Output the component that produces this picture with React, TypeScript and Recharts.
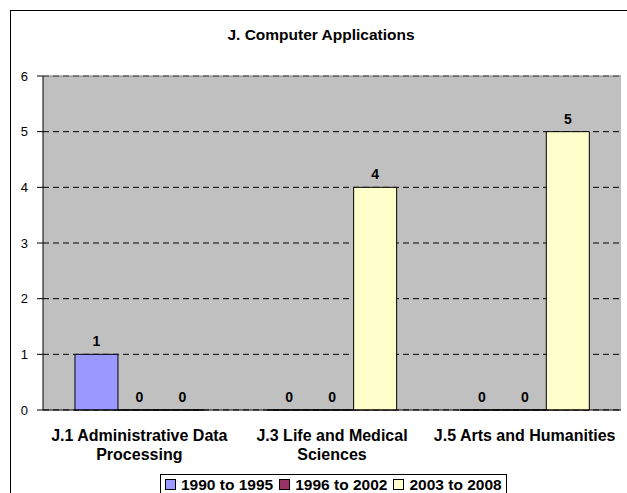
import React from 'react';
import {
  BarChart, Bar, XAxis, YAxis, CartesianGrid, Legend, LabelList, ReferenceLine,
} from 'recharts';

const CATEGORIES = [
  'J.1 Administrative Data|Processing',
  'J.3 Life and Medical|Sciences',
  'J.5 Arts and Humanities',
];
const P1990_1995 = [1, 0, 0];
const P1996_2002 = [0, 0, 0];
const P2003_2008 = [0, 4, 5];
const Y_TICKS = [0, 1, 2, 3, 4, 5, 6];
const EDGE_TICKS = [0, 1, 2, 3];

const SERIES = [
  { key: 'p1', name: '1990 to 1995', color: '#9999FF' },
  { key: 'p2', name: '1996 to 2002', color: '#993366' },
  { key: 'p3', name: '2003 to 2008', color: '#FFFFCC' },
];

const data = CATEGORIES.map((c, i) => ({
  cat: c,
  p1: P1990_1995[i],
  p2: P1996_2002[i],
  p3: P2003_2008[i],
}));

const FONT = 'Arial, "Liberation Sans", Helvetica, sans-serif';

const CategoryTick = ({ x, y, payload }: any) => {
  const lines = String(payload.value).split('|');
  return (
    <text x={x} y={y} textAnchor="middle" fontFamily={FONT} fontSize={16} fontWeight="bold" fill="#000">
      {lines.map((l, i) => (
        <tspan key={i} x={x} dy={i === 0 ? 23 : 19}>{l}</tspan>
      ))}
    </text>
  );
};

const LegendBox = () => (
  <div
    style={{
      border: '1px solid #000',
      borderBottom: 'none',
      background: '#fff',
      display: 'flex',
      alignItems: 'center',
      gap: 6,
      padding: '1px 4px 0 4px',
      fontFamily: FONT,
      fontSize: 15.5,
      lineHeight: '17px',
      fontWeight: 'bold',
      whiteSpace: 'nowrap',
    }}
  >
    {SERIES.map((s) => (
      <span key={s.key} style={{ display: 'flex', alignItems: 'center', gap: 5 }}>
        <span style={{ width: 9, height: 9, background: s.color, border: '1px solid #000', display: 'inline-block' }} />
        {s.name}
      </span>
    ))}
  </div>
);

export default function App() {
  return (
    <div style={{ position: 'absolute', left: 0, top: 0, width: 627, height: 493, overflow: 'hidden', background: '#fff' }}>
      <div style={{ position: 'absolute', left: 10, top: 10, width: 700, height: 600, border: '1.5px solid #000', boxSizing: 'border-box' }} />
      <div
        style={{
          position: 'absolute', left: 0, top: 26, width: 642, textAlign: 'center',
          fontFamily: FONT, fontSize: 15.5, fontWeight: 'bold', color: '#000',
        }}
      >
        J. Computer Applications
      </div>
      <div style={{ position: 'absolute', left: 0, top: 0 }}>
        <BarChart
          width={627}
          height={493}
          data={data}
          margin={{ top: 76, right: 6, bottom: 0, left: 10 }}
          barCategoryGap="16.6%"
          barGap={0}
        >
          <CartesianGrid fill="#C0C0C0" vertical={false} stroke="#000" strokeDasharray="6 4" />
          <XAxis
            xAxisId="edge"
            type="number"
            domain={[0, 3]}
            ticks={EDGE_TICKS}
            height={0}
            axisLine={false}
            tickLine={{ stroke: '#000' }}
            tickSize={5}
            tick={() => <g />}
          />
          <XAxis
            dataKey="cat"
            height={83}
            axisLine={{ stroke: '#000' }}
            tickLine={false}
            tick={<CategoryTick />}
            interval={0}
          />
          <YAxis
            width={33}
            domain={[0, 6]}
            ticks={Y_TICKS}
            axisLine={{ stroke: '#000' }}
            tickLine={{ stroke: '#000' }}
            tickSize={6}
            tickMargin={9}
            tick={{ fontFamily: FONT, fontSize: 13, fill: '#000' }}
          />
          <ReferenceLine y={6} stroke="#808080" />
          <ReferenceLine xAxisId="edge" x={3} stroke="#808080" />
          <Legend
            layout="horizontal"
            verticalAlign="middle"
            align="center"
            wrapperStyle={{ position: 'absolute', left: 160, top: 474, width: 'auto' }}
            content={<LegendBox />}
          />
          {SERIES.map((s) => (
            <Bar
              key={s.key}
              dataKey={s.key}
              name={s.name}
              fill={s.color}
              stroke="#000"
              strokeWidth={1}
              minPointSize={0.01}
              isAnimationActive={false}
            >
              <LabelList
                dataKey={s.key}
                position="top"
                offset={8}
                style={{ fontFamily: FONT, fontSize: 14, fontWeight: 'bold', fill: '#000' }}
              />
            </Bar>
          ))}
        </BarChart>
      </div>
    </div>
  );
}
